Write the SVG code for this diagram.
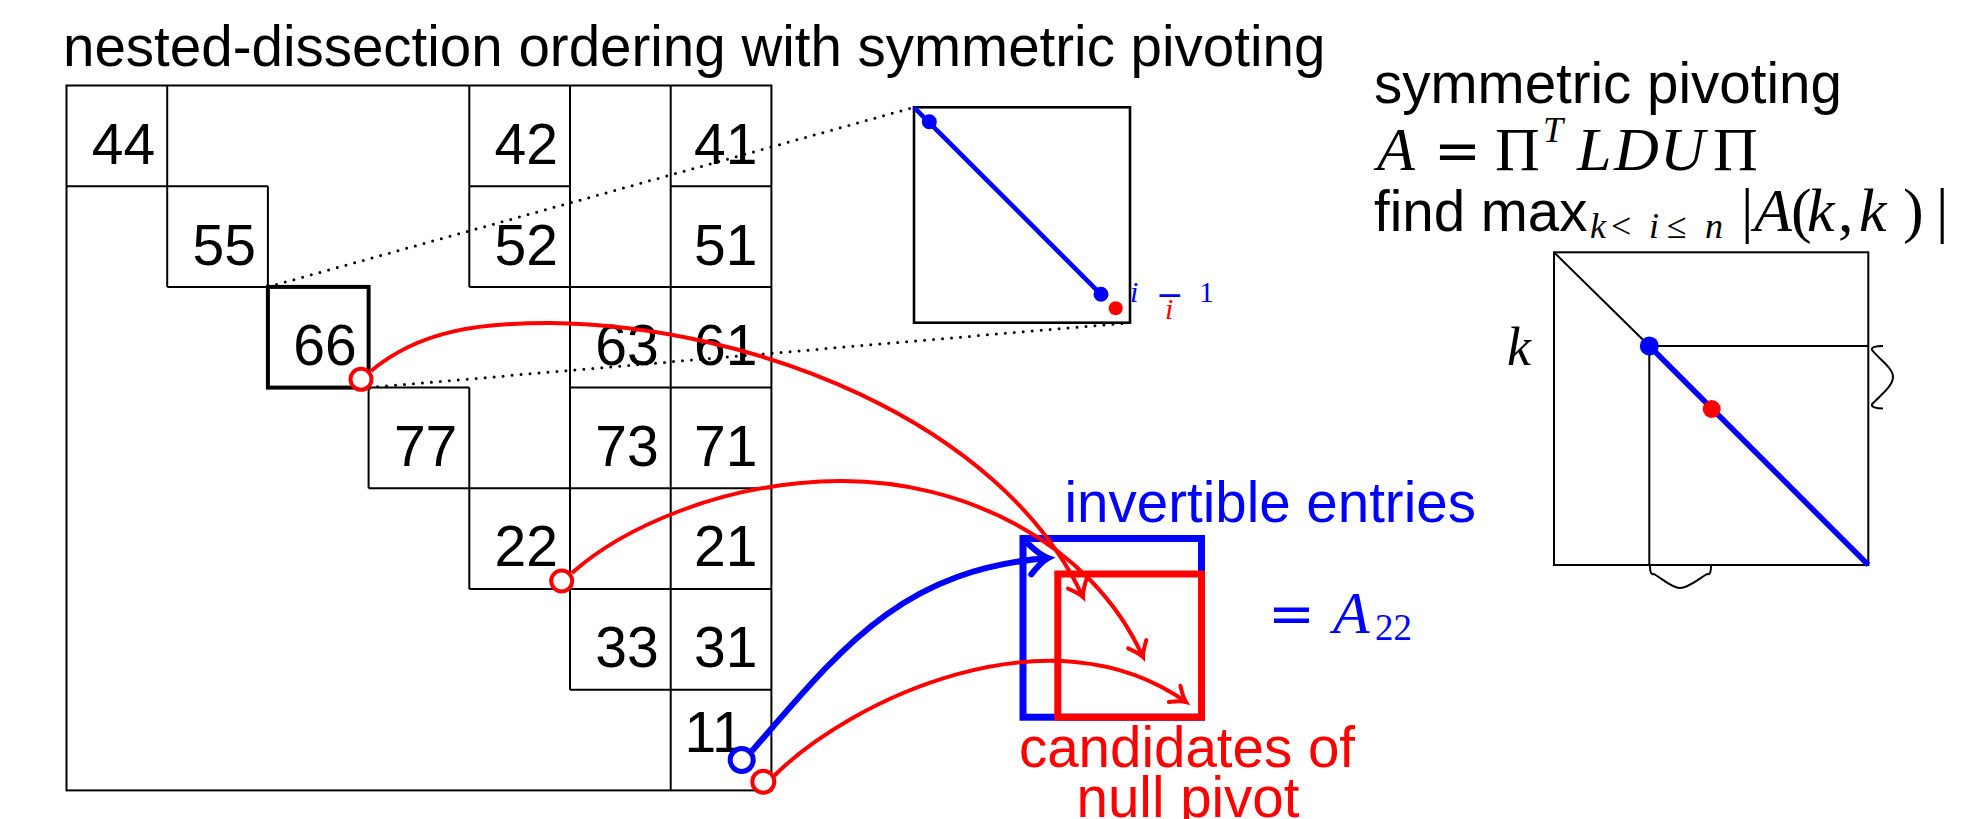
<svg xmlns="http://www.w3.org/2000/svg" width="1972" height="819" viewBox="0 0 1972 819">
<style>
.t{font-family:"Liberation Sans",Arial,Helvetica,sans-serif;font-size:56.5px}
.num{font-family:"Liberation Sans",Arial,Helvetica,sans-serif;font-size:57px;text-anchor:end;fill:#000}
.mi{font-family:"Liberation Serif","DejaVu Serif",serif;font-style:italic}
.rm{font-family:"Liberation Serif","DejaVu Serif",serif;font-style:normal}
.dv{font-family:"DejaVu Serif","Liberation Serif",serif;font-style:normal}
.ln{fill:none;stroke:#000;stroke-width:2}
.dot{fill:none;stroke:#000;stroke-width:3;stroke-dasharray:0 9;stroke-linecap:round}
.rc{fill:none;stroke:#f00;stroke-width:4}
.bc{fill:none;stroke:#00f;stroke-width:6}
.blue{fill:#00f}
.red{fill:#f00}
</style>
<defs>
<marker id="arR" markerUnits="userSpaceOnUse" viewBox="-20 -15 25 30" markerWidth="25" markerHeight="30" refX="0" refY="0" orient="auto" overflow="visible">
<path d="M-14,-10 Q-5,-2 0,0 Q-5,2 -14,10" fill="none" stroke="#f00" stroke-width="4" stroke-linecap="round"/>
</marker>
<marker id="arB" markerUnits="userSpaceOnUse" viewBox="-25 -20 30 40" markerWidth="30" markerHeight="40" refX="0" refY="0" orient="auto" overflow="visible">
<path d="M-18,-15 Q-7,-3 0,0 Q-7,3 -18,15" fill="none" stroke="#00f" stroke-width="6" stroke-linecap="round"/>
</marker>
</defs>
<rect width="1972" height="819" fill="#fff"/>

<g id="title">
<text class="t" x="63" y="66">nested-dissection ordering with symmetric pivoting</text>
</g>

<g id="matrix">
<rect class="ln" x="66.5" y="85.5" width="704.9" height="704.9"/>
<path class="ln" d="M167.2,85.5V286.9 M267.9,186.2V286.9 M368.6,387.6V488.3 M469.3,85.5V286.9 M469.3,387.6V589 M570,85.5V689.7 M670.7,85.5V790.4
M66.5,186.2H267.9 M469.3,186.2H570 M670.7,186.2H771.4
M167.2,286.9H267.9 M469.3,286.9H771.4
M368.6,387.6H469.3 M570,387.6H771.4
M368.6,488.3H771.4 M469.3,589H771.4 M570,689.7H771.4"/>
<rect x="267.9" y="286.9" width="100.7" height="100.7" fill="none" stroke="#000" stroke-width="4"/>
<text class="num" x="155.2" y="164">44</text>
<text class="num" x="255.9" y="264.7">55</text>
<text class="num" x="356.6" y="365.4">66</text>
<text class="num" x="457.3" y="466.1">77</text>
<text class="num" x="558" y="566">22</text>
<text class="num" x="658.7" y="666.5">33</text>
<text class="num" x="743.6" y="751.7">11</text>
<text class="num" x="558" y="164">42</text>
<text class="num" x="558" y="264.7">52</text>
<text class="num" x="757.5" y="164">41</text>
<text class="num" x="757.5" y="264.7">51</text>
<text class="num" x="658.7" y="365.4">63</text>
<text class="num" x="757.5" y="365.4">61</text>
<text class="num" x="658.7" y="466.1">73</text>
<text class="num" x="757.5" y="466.1">71</text>
<text class="num" x="757.5" y="566">21</text>
<text class="num" x="757.5" y="666.5">31</text>
</g>

<g id="inset">
<rect x="914" y="107.3" width="216" height="215.4" fill="none" stroke="#000" stroke-width="2.6"/>
<line x1="914" y1="107.3" x2="1101" y2="294.3" stroke="#00f" stroke-width="4.6"/>
<circle class="blue" cx="929.3" cy="121.7" r="7.5"/>
<circle class="blue" cx="1101" cy="294.3" r="7.5"/>
<circle class="red" cx="1115.7" cy="308.3" r="7"/>
<text font-size="30"><tspan class="mi blue" x="1130" y="302">i</tspan><tspan class="dv blue" x="1156" y="306" font-size="33">−</tspan><tspan class="rm blue" x="1199" y="302">1</tspan><tspan class="mi red" x="1165" y="319">i</tspan></text>
</g>

<g id="pivot-boxes">
<rect x="1023" y="538.5" width="178.5" height="178.7" fill="none" stroke="#00f" stroke-width="7"/>
<rect x="1057.8" y="574" width="143.7" height="143.2" fill="none" stroke="#f00" stroke-width="7"/>
<text class="t blue" x="1064.5" y="521.7">invertible entries</text>
<text class="blue"><tspan class="dv" x="1268" y="633" font-size="56">=</tspan><tspan class="mi" x="1333" y="633.3" font-size="60">A</tspan><tspan class="rm" x="1375" y="640" font-size="37">22</tspan></text>
<text class="t red" text-anchor="middle"><tspan x="1187" y="766.7">candidates of</tspan><tspan x="1188" y="816.7">null pivot</tspan></text>
</g>

<g id="right-text">
<text class="t" x="1374" y="103.3">symmetric pivoting</text>
<text font-size="62"><tspan class="mi" x="1377" y="170">A</tspan><tspan class="dv" x="1434" y="170" font-size="56">=</tspan><tspan class="rm" x="1495" y="170">Π</tspan><tspan class="mi" x="1543" y="142" font-size="36">T</tspan><tspan class="mi" x="1577" y="170">L</tspan><tspan class="mi" x="1614" y="170">D</tspan><tspan class="mi" x="1660" y="170">U</tspan><tspan class="rm" x="1713" y="170">Π</tspan></text>
<text font-size="62"><tspan class="t" x="1374" y="230.7">find max</tspan><tspan class="mi" x="1590" y="238" font-size="36">k</tspan><tspan class="rm" x="1611" y="238" font-size="36">&lt;</tspan><tspan class="mi" x="1649" y="238" font-size="36">i</tspan><tspan class="rm" x="1667" y="238" font-size="36">≤</tspan><tspan class="mi" x="1705" y="238" font-size="36">n</tspan><tspan class="rm" x="1741" y="230.7">|</tspan><tspan class="mi" x="1754" y="230.7">A</tspan><tspan class="rm" x="1791" y="230.7">(</tspan><tspan class="mi" x="1807" y="230.7">k</tspan><tspan class="rm" x="1838" y="230.7">,</tspan><tspan class="mi" x="1859" y="230.7">k</tspan><tspan class="rm" x="1903" y="230.7">)</tspan><tspan class="rm" x="1936" y="230.7">|</tspan></text>
</g>

<g id="right-diagram">
<rect class="ln" x="1554" y="252.3" width="314.3" height="312.7"/>
<path class="ln" d="M1649.3,346H1868.3 M1649.3,346V565 M1554,252.3L1649.3,346"/>
<line x1="1649.3" y1="346" x2="1868.3" y2="565" stroke="#00f" stroke-width="5.5"/>
<circle class="blue" cx="1649.3" cy="346" r="9.5"/>
<circle class="red" cx="1711.7" cy="409" r="9"/>
<path class="ln" d="M1883,346 C1876,346 1871,347 1872,350 C1880,360 1893,368 1893,377 C1893,386 1880,396 1872,404 C1871,407 1876,408.5 1883,408.5"/>
<path class="ln" d="M1650,566 C1650,572 1651,575 1654,574 C1664,580 1672,588 1680,588 C1688,588 1697,580 1707,574 C1710,575 1711,572 1711,566"/>
<text class="mi" x="1507" y="365" font-size="54">k</text>
</g>

<g id="connectors">
<path class="dot" d="M267.9,286.9L914,107.3"/>
<path class="dot" d="M368.6,387.6L1130,322.7"/>
<path class="rc" d="M371,371 C420,330 480,323 550,323 C750,325 1000,420 1083,597" marker-end="url(#arR)"/>
<path class="rc" d="M572,573 C620,530 720,482 840,481 C960,480 1090,540 1143,657" marker-end="url(#arR)"/>
<path class="rc" d="M774,776 C850,700 1050,605 1186,702" marker-end="url(#arR)"/>
<path class="bc" d="M752,751 C840,650 900,570 1048,558" marker-end="url(#arB)"/>
</g>

<g id="pivot-marks">
<circle cx="361" cy="379.3" r="10.5" fill="#fff" stroke="#f00" stroke-width="4"/>
<circle cx="561.7" cy="581" r="10.5" fill="#fff" stroke="#f00" stroke-width="4"/>
<circle cx="741.7" cy="760" r="11.5" fill="#fff" stroke="#00f" stroke-width="5"/>
<circle cx="763.3" cy="781.7" r="11" fill="#fff" stroke="#f00" stroke-width="4"/>
</g>
</svg>
